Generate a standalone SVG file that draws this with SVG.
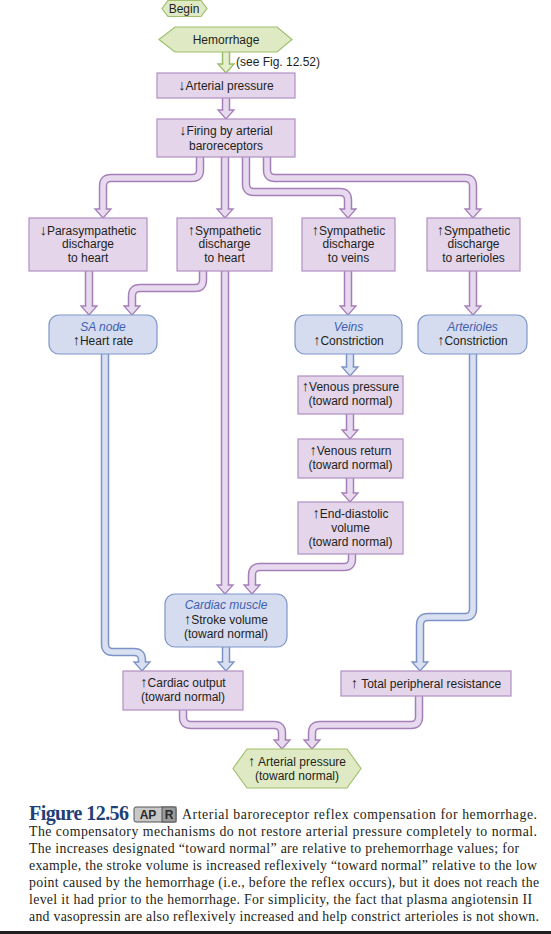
<svg xmlns="http://www.w3.org/2000/svg" width="551" height="934" viewBox="0 0 551 934">
<style>
.pb{fill:#e4d5ea;stroke:#b18fc2;stroke-width:1.2}
.bb{fill:#d5dcf0;stroke:#7f96c9;stroke-width:1.2}
.gb{fill:#dfeac5;stroke:#9fbf6c;stroke-width:1.2}
.t{font-family:"Liberation Sans",Arial,sans-serif;font-size:12px;fill:#231f20;text-anchor:middle}
.it{font-style:italic;fill:#3f5fae}
.ar{font-size:14.5px}
.po{fill:none;stroke:#a57fb9;stroke-width:8.5}
.pi{fill:none;stroke:#e8daee;stroke-width:5.5;marker-end:url(#mp)}
.bo{fill:none;stroke:#7d93c6;stroke-width:8.5}
.bi{fill:none;stroke:#d8e0f2;stroke-width:5.5;marker-end:url(#mb)}
.go{fill:none;stroke:#9cbb67;stroke-width:8.5}
.gi{fill:none;stroke:#e6efcf;stroke-width:5.5;marker-end:url(#mg)}
.cap{font-family:"Liberation Serif","Times New Roman",serif;font-size:13.8px;fill:#231f20}
</style>
<defs>
<marker id="mp" markerUnits="userSpaceOnUse" viewBox="-2 -10 14 20" refX="0" refY="0" markerWidth="14" markerHeight="20" orient="auto" overflow="visible">
<path d="M0,-2.7 L0,-8 L9,0 L0,8 L0,2.7" fill="#e8daee" stroke="#a57fb9" stroke-width="1.3"/>
</marker>
<marker id="mb" markerUnits="userSpaceOnUse" viewBox="-2 -10 14 20" refX="0" refY="0" markerWidth="14" markerHeight="20" orient="auto" overflow="visible">
<path d="M0,-2.7 L0,-8 L9,0 L0,8 L0,2.7" fill="#d8e0f2" stroke="#7d93c6" stroke-width="1.3"/>
</marker>
<marker id="mg" markerUnits="userSpaceOnUse" viewBox="-2 -10 14 20" refX="0" refY="0" markerWidth="14" markerHeight="20" orient="auto" overflow="visible">
<path d="M0,-2.7 L0,-8 L9,0 L0,8 L0,2.7" fill="#e6efcf" stroke="#9cbb67" stroke-width="1.3"/>
</marker>
</defs>
<rect width="551" height="934" fill="#ffffff"/>

<g id="connectors">
<path class="go" d="M226,51 V64"/><path class="gi" d="M226,51 V64"/>
<path class="po" d="M226,98 V110"/><path class="pi" d="M226,98 V110"/>
<path class="po" d="M200,157 V170 Q200,178 192,178 H111 Q103,178 103,186 V209"/><path class="pi" d="M200,157 V170 Q200,178 192,178 H111 Q103,178 103,186 V209"/>
<path class="po" d="M225,157 V209"/><path class="pi" d="M225,157 V209"/>
<path class="po" d="M246,157 V184 Q246,192 254,192 H340 Q348,192 348,200 V209"/><path class="pi" d="M246,157 V184 Q246,192 254,192 H340 Q348,192 348,200 V209"/>
<path class="po" d="M267,157 V170 Q267,178 275,178 H465 Q473,178 473,186 V209"/><path class="pi" d="M267,157 V170 Q267,178 275,178 H465 Q473,178 473,186 V209"/>
<path class="po" d="M89,271 V306"/><path class="pi" d="M89,271 V306"/>
<path class="po" d="M203,271 V280 Q203,288 195,288 H140 Q132,288 132,296 V306"/><path class="pi" d="M203,271 V280 Q203,288 195,288 H140 Q132,288 132,296 V306"/>
<path class="po" d="M225,271 V585"/><path class="pi" d="M225,271 V585"/>
<path class="po" d="M348,271 V306"/><path class="pi" d="M348,271 V306"/>
<path class="po" d="M473,271 V306"/><path class="pi" d="M473,271 V306"/>
<path class="bo" d="M350,354 V367"/><path class="bi" d="M350,354 V367"/>
<path class="po" d="M350,414 V430"/><path class="pi" d="M350,414 V430"/>
<path class="po" d="M350,478 V493"/><path class="pi" d="M350,478 V493"/>
<path class="po" d="M352,554 V559 Q352,567 344,567 H260 Q252,567 252,575 V585"/><path class="pi" d="M352,554 V559 Q352,567 344,567 H260 Q252,567 252,575 V585"/>
<path class="bo" d="M105,354 V644 Q105,652 113,652 H134 Q142,652 142,660 V662"/><path class="bi" d="M105,354 V644 Q105,652 113,652 H134 Q142,652 142,660 V662"/>
<path class="bo" d="M226,647 V662"/><path class="bi" d="M226,647 V662"/>
<path class="bo" d="M473,354 V609 Q473,617 465,617 H428 Q420,617 420,625 V662"/><path class="bi" d="M473,354 V609 Q473,617 465,617 H428 Q420,617 420,625 V662"/>
<path class="po" d="M183,710 V717 Q183,725 191,725 H274 Q282,725 282,733 V740"/><path class="pi" d="M183,710 V717 Q183,725 191,725 H274 Q282,725 282,733 V740"/>
<path class="po" d="M419,696 V717 Q419,725 411,725 H320 Q312,725 312,733 V740"/><path class="pi" d="M419,696 V717 Q419,725 411,725 H320 Q312,725 312,733 V740"/>
</g>

<g id="begin">
<polygon class="gb" points="162,8.5 168,0.5 201,0.5 207,8.5 201,16.5 168,16.5"/>
<text class="t" x="184" y="13" font-size="11.5">Begin</text>
</g>
<g id="hemorrhage">
<polygon class="gb" points="159,39.5 175,27 277,27 292,39.5 277,52 175,52"/>
<text class="t" x="226" y="44">Hemorrhage</text>
</g>
<text class="t" x="236" y="66" style="text-anchor:start" font-size="11.5">(see Fig. 12.52)</text>
<g id="art-pressure">
<rect class="pb" x="157" y="73" width="138" height="25"/>
<text class="t" x="226" y="90"><tspan class="ar">↓</tspan>Arterial pressure</text>
</g>
<g id="firing">
<rect class="pb" x="157" y="119" width="138" height="38"/>
<text class="t" x="226" y="135"><tspan class="ar">↓</tspan>Firing by arterial</text>
<text class="t" x="226" y="150">baroreceptors</text>
</g>
<g id="para-heart">
<rect class="pb" x="29" y="218" width="118" height="53"/>
<text class="t" x="88" y="235"><tspan class="ar">↓</tspan>Parasympathetic</text>
<text class="t" x="88" y="248">discharge</text>
<text class="t" x="88" y="262">to heart</text>
</g>
<g id="symp-heart">
<rect class="pb" x="177" y="218" width="95" height="53"/>
<text class="t" x="224.5" y="235"><tspan class="ar">↑</tspan>Sympathetic</text>
<text class="t" x="224.5" y="248">discharge</text>
<text class="t" x="224.5" y="262">to heart</text>
</g>
<g id="symp-veins">
<rect class="pb" x="302" y="218" width="93" height="53"/>
<text class="t" x="348.5" y="235"><tspan class="ar">↑</tspan>Sympathetic</text>
<text class="t" x="348.5" y="248">discharge</text>
<text class="t" x="348.5" y="262">to veins</text>
</g>
<g id="symp-arterioles">
<rect class="pb" x="427" y="218" width="93" height="53"/>
<text class="t" x="473.5" y="235"><tspan class="ar">↑</tspan>Sympathetic</text>
<text class="t" x="473.5" y="248">discharge</text>
<text class="t" x="473.5" y="262">to arterioles</text>
</g>
<g id="sa-node">
<rect class="bb" x="49" y="315" width="108" height="39" rx="10"/>
<text class="t it" x="103" y="331">SA node</text>
<text class="t" x="103" y="345"><tspan class="ar">↑</tspan>Heart rate</text>
</g>
<g id="veins">
<rect class="bb" x="295" y="315" width="107" height="39" rx="10"/>
<text class="t it" x="348.5" y="331">Veins</text>
<text class="t" x="348.5" y="345"><tspan class="ar">↑</tspan>Constriction</text>
</g>
<g id="arterioles">
<rect class="bb" x="418" y="315" width="109" height="39" rx="10"/>
<text class="t it" x="472.5" y="331">Arterioles</text>
<text class="t" x="472.5" y="345"><tspan class="ar">↑</tspan>Constriction</text>
</g>
<g id="venous-pressure">
<rect class="pb" x="298" y="376" width="105" height="38"/>
<text class="t" x="350.5" y="391"><tspan class="ar">↑</tspan>Venous pressure</text>
<text class="t" x="350.5" y="405">(toward normal)</text>
</g>
<g id="venous-return">
<rect class="pb" x="298" y="439" width="105" height="39"/>
<text class="t" x="350.5" y="455"><tspan class="ar">↑</tspan>Venous return</text>
<text class="t" x="350.5" y="469">(toward normal)</text>
</g>
<g id="edv">
<rect class="pb" x="298" y="502" width="105" height="52"/>
<text class="t" x="350.5" y="518"><tspan class="ar">↑</tspan>End-diastolic</text>
<text class="t" x="350.5" y="532">volume</text>
<text class="t" x="350.5" y="546">(toward normal)</text>
</g>
<g id="cardiac-muscle">
<rect class="bb" x="165" y="594" width="122" height="53" rx="10"/>
<text class="t it" x="226" y="609">Cardiac muscle</text>
<text class="t" x="226" y="624"><tspan class="ar">↑</tspan>Stroke volume</text>
<text class="t" x="226" y="638">(toward normal)</text>
</g>
<g id="cardiac-output">
<rect class="pb" x="123" y="671" width="120" height="39"/>
<text class="t" x="183" y="687"><tspan class="ar">↑</tspan>Cardiac output</text>
<text class="t" x="183" y="701">(toward normal)</text>
</g>
<g id="tpr">
<rect class="pb" x="341" y="671" width="170" height="25"/>
<text class="t" x="426" y="688"><tspan class="ar">↑</tspan> Total peripheral resistance</text>
</g>
<g id="final-pressure">
<polygon class="gb" points="233,768.5 247,749 347,749 361,768.5 347,788 247,788"/>
<text class="t" x="297" y="766"><tspan class="ar">↑</tspan> Arterial pressure</text>
<text class="t" x="297" y="780">(toward normal)</text>
</g>

<g id="caption">
<text x="29" y="820" font-family="'Liberation Serif','Times New Roman',serif" font-size="20" font-weight="bold" fill="#1f3f78" textLength="100" lengthAdjust="spacing">Figure 12.56</text>
<rect x="134" y="807" width="42" height="15" rx="2" fill="#c8c8c8" stroke="#555" stroke-width="1"/>
<rect x="162" y="807" width="14" height="15" fill="#9a9a9a" stroke="#555" stroke-width="1"/>
<text x="148" y="819" font-family="'Liberation Sans',Arial,sans-serif" font-size="12" font-weight="bold" fill="#2a2a2a" text-anchor="middle">AP</text>
<text x="169" y="819" font-family="'Liberation Sans',Arial,sans-serif" font-size="12" font-weight="bold" fill="#2a2a2a" text-anchor="middle">R</text>
<text class="cap" x="182" y="819" textLength="355" lengthAdjust="spacing">Arterial baroreceptor reflex compensation for hemorrhage.</text>
<text class="cap" x="29" y="836" textLength="508" lengthAdjust="spacing">The compensatory mechanisms do not restore arterial pressure completely to normal.</text>
<text class="cap" x="29" y="853" textLength="490" lengthAdjust="spacing">The increases designated “toward normal” are relative to prehemorrhage values; for</text>
<text class="cap" x="29" y="870" textLength="508" lengthAdjust="spacing">example, the stroke volume is increased reflexively “toward normal” relative to the low</text>
<text class="cap" x="29" y="887" textLength="510" lengthAdjust="spacing">point caused by the hemorrhage (i.e., before the reflex occurs), but it does not reach the</text>
<text class="cap" x="29" y="904" textLength="503" lengthAdjust="spacing">level it had prior to the hemorrhage. For simplicity, the fact that plasma angiotensin II</text>
<text class="cap" x="29" y="921" textLength="510" lengthAdjust="spacing">and vasopressin are also reflexively increased and help constrict arterioles is not shown.</text>
</g>
<rect x="0" y="931" width="551" height="3" fill="#231f20"/>
</svg>
